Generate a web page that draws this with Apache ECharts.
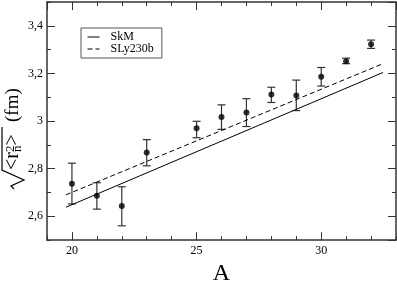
<!DOCTYPE html>
<html>
<head>
<meta charset="utf-8">
<script src="https://cdn.jsdelivr.net/npm/echarts@6/dist/echarts.min.js"></script>
<style>
html,body{margin:0;padding:0;background:#fff;}
#c{width:397px;height:291px;}
</style>
</head>
<body>
<div id="c"></div>
<script>
// ---- data ----
const massNumbers = [20, 21, 22, 23, 25, 26, 27, 28, 29, 30, 31, 32];
const radiusExp   = [2.737, 2.686, 2.643, 2.868, 2.970, 3.017, 3.036, 3.111, 3.107, 3.186, 3.251, 3.323];
const errLow      = [2.652, 2.630, 2.560, 2.812, 2.930, 2.965, 2.977, 3.078, 3.044, 3.147, 3.241, 3.305];
const errHigh     = [2.823, 2.741, 2.724, 2.922, 2.999, 3.068, 3.094, 3.142, 3.172, 3.225, 3.264, 3.340];
const skmA = [19.76, 32.48];
const skmR = [2.638, 3.204];
const slyA = [19.76, 32.48];
const slyR = [2.690, 3.241];
const xTickValues = [20, 25, 30];
const xTickLabels = ['20', '25', '30'];
const yTickValues = [2.6, 2.8, 3.0, 3.2, 3.4];
const yTickLabels = ['2,6', '2,8', '3', '3,2', '3,4'];

const FONT = '"Liberation Serif", "Times New Roman", serif';
const axisColor = '#333';

function lookup(vals, labels, v) {
  for (let i = 0; i < vals.length; i++) if (Math.abs(vals[i] - v) < 1e-6) return labels[i];
  return '';
}

function majorX(pos, showLabels) {
  return {
    type: 'value', position: pos, min: 19, max: 33, splitNumber: 3, minInterval: 5, maxInterval: 5,
    offset: 0,
    axisLine: { show: true, onZero: false, lineStyle: { color: axisColor, width: 1.5 } },
    axisTick: { show: true, inside: true, length: 8, lineStyle: { color: axisColor, width: 1 } },
    axisLabel: { show: showLabels, showMinLabel: false, showMaxLabel: false, margin: 5,
      fontFamily: FONT, fontSize: 12, color: '#000',
      formatter: v => lookup(xTickValues, xTickLabels, v) },
    splitLine: { show: false },
    name: showLabels ? 'A' : '', nameLocation: 'middle', nameGap: 12,
    nameTextStyle: { fontFamily: FONT, fontSize: 24, color: '#000' }
  };
}
function minorX(pos) {
  return {
    type: 'value', position: pos, min: 19, max: 33, interval: 1, offset: 0,
    axisLine: { show: false, onZero: false },
    axisTick: { show: true, inside: true, length: 4, lineStyle: { color: axisColor, width: 1 } },
    axisLabel: { show: false }, splitLine: { show: false }
  };
}
function majorY(pos, showLabels) {
  return {
    type: 'value', position: pos, min: 2.5, max: 3.5, splitNumber: 5, minInterval: 0.2, maxInterval: 0.2,
    offset: 0,
    axisLine: { show: true, onZero: false, lineStyle: { color: axisColor, width: 1.5 } },
    axisTick: { show: true, inside: true, length: 8, lineStyle: { color: axisColor, width: 1 } },
    axisLabel: { show: showLabels, showMinLabel: false, showMaxLabel: false, margin: 4,
      fontFamily: FONT, fontSize: 12, color: '#000',
      formatter: v => lookup(yTickValues, yTickLabels, v) },
    splitLine: { show: false }
  };
}
function minorY(pos) {
  return {
    type: 'value', position: pos, min: 2.5, max: 3.5, interval: 0.1, offset: 0,
    axisLine: { show: false, onZero: false },
    axisTick: { show: true, inside: true, length: 4, lineStyle: { color: axisColor, width: 1 } },
    axisLabel: { show: false }, splitLine: { show: false }
  };
}

const chart = echarts.init(document.getElementById('c'), null, { renderer: 'canvas' });

const errData = massNumbers.map((a, i) => [a, errLow[i], errHigh[i]]);
const ptData = massNumbers.map((a, i) => [a, radiusExp[i]]);

const txt = (s, x, y, size) => ({
  type: 'text', x: x, y: y, rotation: Math.PI / 2,
  style: { text: s, font: size + 'px ' + FONT, fill: '#000', align: 'left', verticalAlign: 'middle' }
});

chart.setOption({
  animation: false,
  backgroundColor: '#fff',
  grid: { left: 47, right: 1, top: 2, bottom: 33 },
  xAxis: [majorX('bottom', true), minorX('bottom'), majorX('top', false), minorX('top')],
  yAxis: [majorY('left', true), minorY('left'), majorY('right', false), minorY('right')],
  legend: {
    data: ['SkM', 'SLy230b'],
    orient: 'vertical', left: 81, top: 28,
    padding: [3, 8, 3, 6],
    itemWidth: 12, itemHeight: 8, itemGap: 0,
    borderColor: '#555', borderWidth: 1, backgroundColor: '#fff',
    itemStyle: { color: 'rgba(0,0,0,0)', borderWidth: 0, opacity: 0 },
    lineStyle: { width: 1 },
    textStyle: { fontFamily: FONT, fontSize: 12, color: '#000', lineHeight: 11, padding: [0, 0, 0, 6] }
  },
  graphic: [
    { type: 'polyline', shape: { points: [[14, 189], [11, 186], [24, 180], [2, 170], [2, 127]] },
      style: { stroke: '#000', lineWidth: 1.2, fill: null } },
    txt('<r', 13.2, 170, 20),
    txt('2', 11, 152, 13),
    txt('n', 18, 152, 13),
    txt('>', 13.2, 145.5, 20),
    txt('(fm)', 13.5, 122, 19)
  ],
  series: [
    {
      name: 'SkM', type: 'line', xAxisIndex: 0, yAxisIndex: 0,
      data: skmA.map((a, i) => [a, skmR[i]]),
      symbol: 'none', lineStyle: { color: '#000', width: 1 }, itemStyle: { color: '#000' }
    },
    {
      name: 'SLy230b', type: 'line', xAxisIndex: 0, yAxisIndex: 0,
      data: slyA.map((a, i) => [a, slyR[i]]),
      symbol: 'none', lineStyle: { color: '#000', width: 1, type: [5, 3] }, itemStyle: { color: '#000' }
    },
    {
      name: 'err', type: 'custom', xAxisIndex: 0, yAxisIndex: 0,
      data: errData, encode: { x: 0, y: [1, 2] },
      renderItem: function (params, api) {
        const x = api.value(0), lo = api.value(1), hi = api.value(2);
        const pLo = api.coord([x, lo]), pHi = api.coord([x, hi]);
        const w = 4;
        const st = { stroke: '#333', lineWidth: 1.2 };
        return {
          type: 'group', children: [
            { type: 'line', shape: { x1: pLo[0], y1: pLo[1], x2: pHi[0], y2: pHi[1] }, style: st },
            { type: 'line', shape: { x1: pHi[0] - w, y1: pHi[1], x2: pHi[0] + w, y2: pHi[1] }, style: st },
            { type: 'line', shape: { x1: pLo[0] - w, y1: pLo[1], x2: pLo[0] + w, y2: pLo[1] }, style: st }
          ]
        };
      }
    },
    {
      name: 'exp', type: 'scatter', xAxisIndex: 0, yAxisIndex: 0,
      data: ptData, symbol: 'circle', symbolSize: 6, itemStyle: { color: '#000' }, z: 5
    }
  ]
});
</script>
</body>
</html>
